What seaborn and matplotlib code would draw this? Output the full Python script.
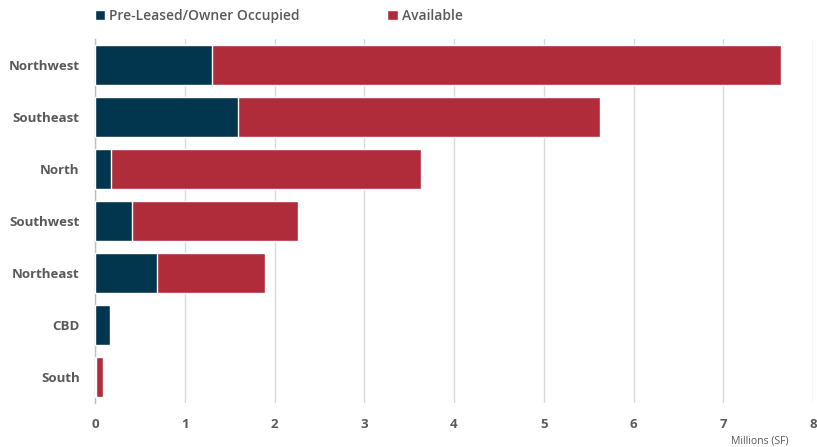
import matplotlib
matplotlib.use("Agg")
import matplotlib.pyplot as plt
import seaborn as sns
import pandas as pd
from matplotlib.patches import Patch

categories = ["Northwest", "Southeast", "North", "Southwest", "Northeast", "CBD", "South"]
pre_leased = [1.30, 1.59, 0.18, 0.41, 0.69, 0.17, 0.01]
available = [6.34, 4.04, 3.45, 1.85, 1.20, 0.00, 0.08]
xticks = [0, 1, 2, 3, 4, 5, 6, 7, 8]

navy = "#02364F"
red = "#B02C3A"
txt = "#595959"

sns.set_theme(style="white")
plt.rcParams['font.family'] = ['Open Sans', 'DejaVu Sans']

df = pd.DataFrame({"Submarket": categories, "Pre": pre_leased, "Avail": available})
df["Total"] = df["Pre"] + df["Avail"]

fig = plt.figure(figsize=(8.17, 4.47), dpi=100)
ax = fig.add_axes([95/817, 1 - 403/447, (813-95)/817, (403-39)/447])

sns.barplot(data=df, y="Submarket", x="Total", color=red, orient="h", width=0.77,
            saturation=1, ax=ax, zorder=2)
sns.barplot(data=df, y="Submarket", x="Pre", color=navy, orient="h", width=0.77,
            saturation=1, ax=ax, zorder=3)

ax.set_xlim(0, 8)
ax.set_ylim(6.5, -0.5)
ax.set_xticks(xticks)
ax.set_xticklabels([str(t) for t in xticks])
ax.grid(axis="x", color="#D9D9D9", linewidth=1, zorder=0)
ax.set_axisbelow(True)
for s in ["top", "right", "bottom"]:
    ax.spines[s].set_visible(False)
ax.spines["left"].set_color("#BFBFBF")
ax.spines["left"].set_linewidth(1)
ax.set_xlabel("")
ax.set_ylabel("")
ax.tick_params(axis="x", length=0, pad=11, labelsize=9.5, labelcolor=txt)
ax.tick_params(axis="y", length=0, pad=11, labelsize=9.5, labelcolor=txt)
for lbl in ax.get_xticklabels() + ax.get_yticklabels():
    lbl.set_fontweight("bold")

fig.text(760/817, 1 - 441/447, "Millions (SF)", ha="center", va="center",
         fontsize=7.5, color=txt)

h1 = Patch(facecolor=navy)
h2 = Patch(facecolor=red)
leg = fig.legend([h1, h2], ["Pre-Leased/Owner Occupied", "Available"],
           loc="center left", bbox_to_anchor=(89/817, 1 - 16/447), ncol=2,
           frameon=False, fontsize=10, labelcolor=txt, handlelength=0.75,
           handleheight=0.75, handletextpad=0.3, columnspacing=6.3, borderaxespad=0)
for t in leg.get_texts():
    t.set_fontweight("semibold")

fig.savefig("out.png", dpi=100)
